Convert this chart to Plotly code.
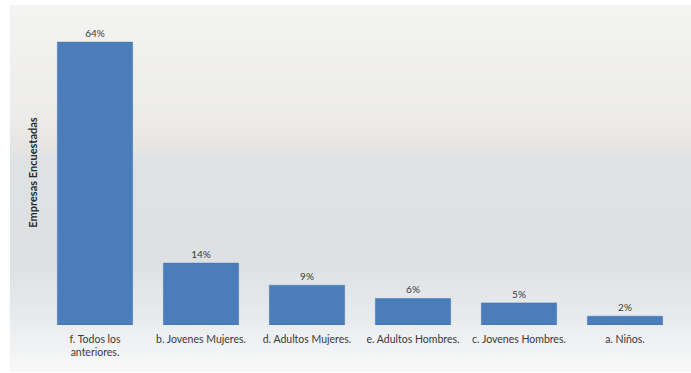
import plotly.graph_objects as go

categories = ["f. Todos los<br>anteriores.", "b. Jovenes Mujeres.", "d. Adultos Mujeres.",
              "e. Adultos Hombres.", "c. Jovenes Hombres.", "a. Niños."]
values = [64, 14, 9, 6, 5, 2]

W, H = 691, 373
ML, MR, MT, MB = 42, 13, 20, 48
plot_w = W - ML - MR
plot_h = H - MT - MB


def px_x(x):
    return (x - ML) / plot_w


def px_y(y):
    return (H - MB - y) / plot_h


def hex_to_rgb(h):
    h = h.lstrip("#")
    return tuple(int(h[i:i + 2], 16) for i in (0, 2, 4))


# vertical gradient of the chart panel: (pixel y, colour)
stops = [(5, "#f4f4f2"), (120, "#edecea"), (150, "#e6e5e3"), (160, "#e0e3e6"),
         (260, "#dde1e4"), (320, "#e9ecee"), (372, "#f9f9f9")]

shapes = []
step = 3
y = stops[0][0]
while y < stops[-1][0]:
    y2 = min(y + step, stops[-1][0])
    ym = (y + y2) / 2
    for (a, ca), (b, cb) in zip(stops[:-1], stops[1:]):
        if a <= ym <= b:
            t = (ym - a) / (b - a)
            r1, g1, b1 = hex_to_rgb(ca)
            r2, g2, b2 = hex_to_rgb(cb)
            col = "rgb(%d,%d,%d)" % (r1 + (r2 - r1) * t, g1 + (g2 - g1) * t, b1 + (b2 - b1) * t)
            break
    shapes.append(dict(type="rect", xref="paper", yref="paper",
                       x0=px_x(10), x1=px_x(691), y0=px_y(y2), y1=px_y(y),
                       fillcolor=col, line=dict(width=0), layer="below"))
    y = y2

fig = go.Figure(go.Bar(
    x=categories, y=values,
    marker=dict(color="#4a7dba", line=dict(color="#4174b0", width=0.5)),
    texttemplate="%{y}%", textposition="outside",
    textfont=dict(size=10, color="#3a3a3a", family="Lato"),
    cliponaxis=False,
))

fig.update_layout(
    width=W, height=H,
    margin=dict(l=ML, r=MR, t=MT, b=MB),
    paper_bgcolor="white", plot_bgcolor="rgba(0,0,0,0)",
    bargap=0.29,
    showlegend=False,
    shapes=shapes,
    font=dict(family="Lato", color="#3a3a3a"),
    xaxis=dict(showgrid=False, showline=False, ticks="", ticklabelstandoff=6,
               tickfont=dict(size=10.5, color="#3a3a3a")),
    yaxis=dict(range=[0, 69], showgrid=False, zeroline=False, showticklabels=False, ticks="",
               title=dict(text="<b>Empresas Encuestadas</b>", font=dict(size=11, color="#2a2a2a"),
                          standoff=1)),
)

fig.write_html("out.html")
